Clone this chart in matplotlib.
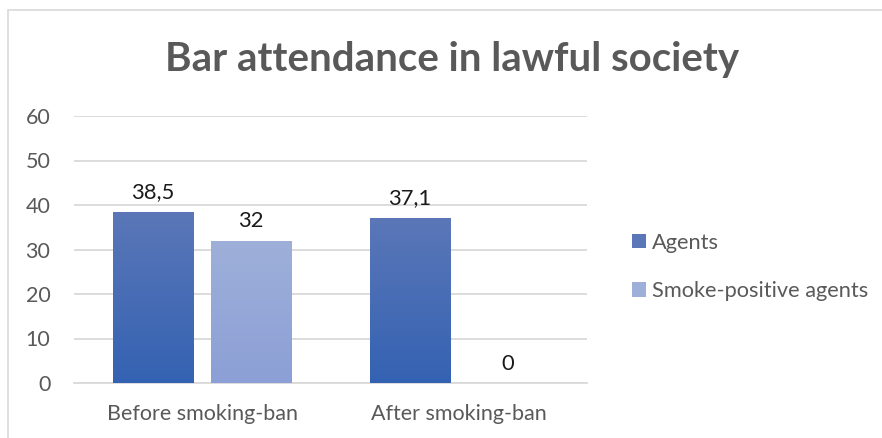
import matplotlib
matplotlib.use("Agg")
import matplotlib.pyplot as plt
import numpy as np
from matplotlib.patches import Rectangle
from matplotlib.colors import LinearSegmentedColormap

categories = ["Before smoking-ban", "After smoking-ban"]
series_names = ["Agents", "Smoke-positive agents"]
agents = [38.5, 37.1]
smoke_positive = [32, 0]
yticks = [0, 10, 20, 30, 40, 50, 60]
title = "Bar attendance in lawful society"

plt.rcParams['font.family'] = ['Lato', 'DejaVu Sans']

fig = plt.figure(figsize=(8.82, 4.38), dpi=100)
ax = fig.add_axes([74/882, 1-383/438, (587-74)/882, (383-116)/438])

# chart border
fig.patches.append(Rectangle((8/882, -0.1), 1.2, 1 - 10/438 + 0.1, transform=fig.transFigure,
                             fill=False, edgecolor="#d9d9d9", linewidth=1.2))

x = np.arange(len(categories))
w = 0.312
off = 0.191
grads = [("#5b77b8", "#3462b2"), ("#9eb0d9", "#8c9fd6")]
series = [agents, smoke_positive]

for si, (vals, name) in enumerate(zip(series, series_names)):
    top_c, bot_c = grads[si]
    cmap = LinearSegmentedColormap.from_list("g%d" % si, [bot_c, top_c])
    pos = x + (-off if si == 0 else off)
    bars = ax.bar(pos, vals, w, color=top_c, label=name, zorder=2, linewidth=0)
    for b, v in zip(bars, vals):
        if v > 0:
            grad = np.linspace(0, 1, 256).reshape(-1, 1)
            im = ax.imshow(grad, cmap=cmap, origin="lower", aspect="auto",
                           extent=[b.get_x(), b.get_x() + b.get_width(), 0, v], zorder=3)
            im.set_clip_path(b)
        lbl = ("%g" % v).replace(".", ",")
        ax.annotate(lbl, (b.get_x() + b.get_width()/2, v), xytext=(0, 14),
                    textcoords="offset points", ha="center", va="center",
                    fontsize=15.8, color="#1a1a1a", zorder=4)

ax.set_xlim(-0.5, 1.5)
ax.set_ylim(0, 60)
ax.set_yticks(yticks)
ax.set_xticks(x)
ax.set_xticklabels(categories)
ax.grid(axis="y", color="#d9d9d9", linewidth=1.3, zorder=0)
ax.set_axisbelow(True)
for s in ["top", "right", "left"]:
    ax.spines[s].set_visible(False)
ax.spines["bottom"].set_color("#d9d9d9")
ax.spines["bottom"].set_linewidth(1.3)
ax.tick_params(axis="both", length=0, labelsize=15.5, colors="#595959")
ax.tick_params(axis="y", pad=17)
ax.tick_params(axis="x", pad=15)

fig.text(0.5*(170+735)/882, 1-59/438, title, ha="center", va="center",
         fontsize=29, fontweight="bold", color="#595959")

handles, labels = ax.get_legend_handles_labels()
leg = fig.legend(handles, labels, loc="center left", bbox_to_anchor=(612/882, 1-267/438),
                 frameon=False, fontsize=15.7, labelcolor="#595959",
                 handlelength=0.65, handleheight=0.65, handletextpad=0.3, labelspacing=1.3)

fig.savefig("out.png", dpi=100)
